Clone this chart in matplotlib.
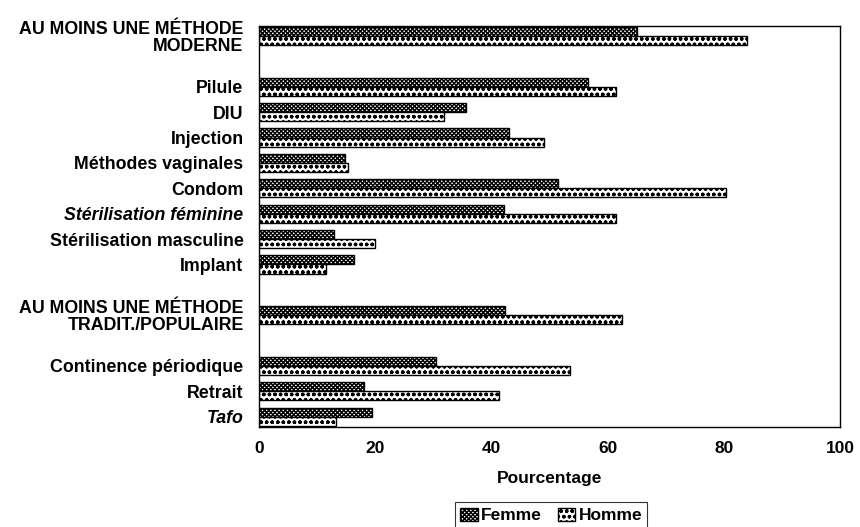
import numpy as np
import matplotlib
matplotlib.use("Agg")
import matplotlib.pyplot as plt

# data (percent)
labels = [
    "AU MOINS UNE MÉTHODE\nMODERNE",
    "Pilule",
    "DIU",
    "Injection",
    "Méthodes vaginales",
    "Condom",
    "Stérilisation féminine",
    "Stérilisation masculine",
    "Implant",
    "AU MOINS UNE MÉTHODE\nTRADIT./POPULAIRE",
    "Continence périodique",
    "Retrait",
    "Tafo",
]
femme = [65.1, 56.7, 35.7, 43.1, 14.8, 51.4, 42.1, 13.0, 16.3, 42.3, 30.4, 18.1, 19.5]
homme = [83.9, 61.4, 31.9, 49.0, 15.3, 80.4, 61.5, 19.9, 11.6, 62.5, 53.6, 41.3, 13.2]
italic_labels = ["Stérilisation féminine", "Tafo"]

# row positions (blank rows between groups)
rows = np.array([0, 2, 3, 4, 5, 6, 7, 8, 9, 11, 13, 14, 15])

plt.rcParams['font.family'] = ['Liberation Sans', 'DejaVu Sans']
plt.rcParams['hatch.linewidth'] = 1.0

fig = plt.figure(figsize=(8.6, 5.27), dpi=100)
ax = fig.add_axes([0.301, 0.190, 0.676, 0.761])

h = 0.36
ax.barh(rows - h / 2, femme, height=h, color="white", edgecolor="black",
        hatch="xxxxxxxx", linewidth=1.0, label="Femme")
ax.barh(rows + h / 2, homme, height=h, color="white", edgecolor="black",
        hatch="ooo", linewidth=1.0, label="Homme")

ax.set_xlim(0, 100)
ax.set_ylim(15.4, -0.4)
ax.set_xticks([0, 20, 40, 60, 80, 100])
ax.set_yticks(rows)
ax.set_yticklabels(labels, fontsize=12.8, fontweight="bold", ha="right",
                   multialignment="right", linespacing=1.0)
for t in ax.get_yticklabels():
    if t.get_text() in italic_labels:
        t.set_fontstyle("italic")
ax.tick_params(axis="both", length=0)
ax.tick_params(axis="y", pad=11)
ax.tick_params(axis="x", pad=10, labelsize=12.5)
for t in ax.get_xticklabels():
    t.set_fontweight("bold")

for s in ax.spines.values():
    s.set_linewidth(1.0)
    s.set_color("black")

ax.set_xlabel("Pourcentage", fontsize=12.5, fontweight="bold", labelpad=11)

leg = fig.legend(loc="center", bbox_to_anchor=(0.641, 0.022), ncol=2,
                 frameon=True, fancybox=False, edgecolor="black",
                 handlelength=1.0, handleheight=0.8, handletextpad=0.2,
                 columnspacing=0.9, borderpad=0.3,
                 prop={"size": 12.5, "weight": "bold"})
leg.get_frame().set_linewidth(0.8)

fig.savefig("out.png", dpi=100)
